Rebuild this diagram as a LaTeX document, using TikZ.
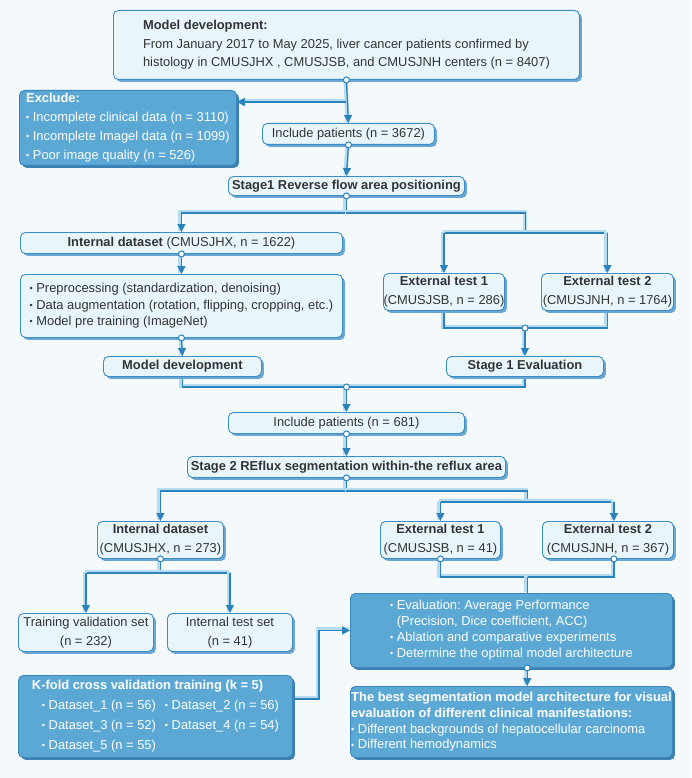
\documentclass[tikz,border=0pt]{standalone}
\usepackage{fontspec}
\setmainfont{Liberation Sans}
\usetikzlibrary{arrows.meta,shadows,calc}
\frenchspacing

\definecolor{bgc}{HTML}{F4F9FB}
\definecolor{lfill}{HTML}{E8F6FC}
\definecolor{lborder}{HTML}{3D8DC5}
\definecolor{lshade}{HTML}{6AA6D2}
\definecolor{dfill}{HTML}{5BA8D5}
\definecolor{dborder}{HTML}{3A87BF}
\definecolor{dshade}{HTML}{3F80B2}
\definecolor{linkc}{HTML}{2C82BD}
\definecolor{linkshade}{HTML}{B5DCF1}
\definecolor{txtc}{HTML}{333333}

\newcommand\boxfont[1]{\fontsize{12.9}{#1}\selectfont}
\newcommand\bul{\raisebox{0.8pt}{\fontsize{9}{9}\selectfont•}\ }

\pgfdeclarelayer{bg}
\pgfdeclarelayer{links}
\pgfdeclarelayer{top}
\pgfsetlayers{bg,links,main,top}

\tikzset{
  box/.style={rounded corners=5pt, line width=0.9pt, anchor=north west,
    inner sep=0pt, align=left},
  lbox/.style={box, draw=lborder, fill=lfill, text=txtc,
    drop shadow={shadow xshift=2.5pt, shadow yshift=-2.5pt, fill=lshade, opacity=1}},
  dbox/.style={box, draw=dborder, fill=dfill, text=white,
    drop shadow={shadow xshift=2.5pt, shadow yshift=-2.5pt, fill=dshade, opacity=1}},
  link/.style={draw=linkc, line width=1.3pt,
    preaction={draw=linkshade, line width=4pt, arrows=-,
      transform canvas={xshift=-1pt, yshift=1pt}}},
  tip/.style={-{Triangle[length=8pt,width=8pt]}},
  dotc/.style={draw=linkc, fill=white, line width=1pt},
}

\begin{document}
\begin{tikzpicture}[x=1pt, y=-1pt, font=\boxfont{15}]
\begin{pgfonlayer}{bg}
  \fill[bgc] (0,0) rectangle (691,778);
\end{pgfonlayer}

% stage 1
\node[lbox, minimum width=466pt, minimum height=69pt, font=\boxfont{18.5}] (dev) at (113,10)
  {\textbf{Model development:}\\From January 2017 to May 2025, liver cancer patients confirmed by\\histology in CMUSJHX , CMUSJSB, and CMUSJNH centers (n = 8407)};
\node[dbox, minimum width=217pt, minimum height=75pt, font=\boxfont{19}] (excl) at (19,90)
  {\textbf{Exclude:}\\\bul Incomplete clinical data (n = 3110)\\\bul Incomplete Imagel data (n = 1099)\\\bul Poor image quality (n = 526)};
\node[lbox, minimum width=172pt, minimum height=21pt] (incl1) at (262,123) {Include patients (n = 3672)};
\node[lbox, minimum width=236pt, minimum height=19pt] (st1) at (228,176) {\textbf{Stage1 Reverse flow area positioning}};
\node[lbox, minimum width=322pt, minimum height=21pt] (ind1) at (20,232) {\textbf{Internal dataset} (CMUSJHX, n = 1622)};
\node[lbox, minimum width=322pt, minimum height=63pt, font=\boxfont{16.5}] (pre) at (20,274)
  {\bul Preprocessing (standardization, denoising)\\\bul Data augmentation (rotation, flipping, cropping, etc.)\\\bul Model pre training (ImageNet)};
\node[lbox, minimum width=158pt, minimum height=20pt] (mdev) at (103,356) {\textbf{Model development}};
\node[lbox, minimum width=121pt, minimum height=37pt, align=center, font=\boxfont{19}] (ext1) at (383,273)
  {\textbf{External test 1}\\(CMUSJSB, n = 286)};
\node[lbox, minimum width=132pt, minimum height=37pt, align=center, font=\boxfont{19}] (ext2) at (541,273)
  {\textbf{External test 2}\\(CMUSJNH, n = 1764)};
\node[lbox, minimum width=157pt, minimum height=20pt] (ev1) at (446,356) {\textbf{Stage 1 Evaluation}};

% stage 2
\node[lbox, minimum width=236pt, minimum height=21pt] (incl2) at (228,412) {Include patients (n = 681)};
\node[lbox, minimum width=318pt, minimum height=21pt] (st2) at (187,456) {\textbf{Stage 2 REflux segmentation within-the reflux area}};
\node[lbox, minimum width=126pt, minimum height=37pt, align=center, font=\boxfont{19}] (ind2) at (97,521)
  {\textbf{Internal dataset}\\(CMUSJHX, n = 273)};
\node[lbox, minimum width=120pt, minimum height=37pt, align=center, font=\boxfont{19}] (ext1b) at (380,521)
  {\textbf{External test 1}\\(CMUSJSB, n = 41)};
\node[lbox, minimum width=131pt, minimum height=37pt, align=center, font=\boxfont{19}] (ext2b) at (542,521)
  {\textbf{External test 2}\\(CMUSJNH, n = 367)};
\node[lbox, minimum width=135pt, minimum height=38pt, align=center, font=\boxfont{19}] (trn) at (18,613)
  {Training validation set\\(n = 232)};
\node[lbox, minimum width=125pt, minimum height=38pt, align=center, font=\boxfont{19}] (its) at (167,613)
  {Internal test set\\(n = 41)};
\node[dbox, minimum width=322pt, minimum height=74pt, font=\boxfont{16}] (eval) at (350,593)
  {\bul Evaluation: Average Performance\\\phantom{\bul}(Precision, Dice coefficient, ACC)\\\bul Ablation and comparative experiments\\\bul Determine the optimal model architecture};
\node[dbox, minimum width=322pt, minimum height=71pt, font=\boxfont{15.7}] (best) at (350,686)
  {\textbf{The best segmentation model architecture for visual}\\\textbf{evaluation of different clinical manifestations:}\\\bul Different backgrounds of hepatocellular carcinoma\\\bul Different hemodynamics};
\node[dbox, minimum width=274pt, minimum height=82pt, font=\boxfont{20}] (kf) at (18,675)
  {\textbf{K-fold cross validation training (k = 5)}\\
   \hspace*{10pt}\makebox[123pt][l]{\bul Dataset\_1 (n = 56)}\bul Dataset\_2 (n = 56)\\
   \hspace*{10pt}\makebox[123pt][l]{\bul Dataset\_3 (n = 52)}\bul Dataset\_4 (n = 54)\\
   \hspace*{10pt}\bul Dataset\_5 (n = 55)};

\coordinate (m1) at ($(ext1.north)!.5!(ext2.north)$);
\coordinate (e2n) at ([xshift=6pt]ext2b.north);
\coordinate (e2s) at ([xshift=6pt]ext2b.south);
\coordinate (m3) at ($(ext1b.north)!.5!(e2n)$);

\begin{pgfonlayer}{links}
\draw[link,tip] (dev.south) -- (incl1.north);
\draw[link,tip] (dev.south |- 0,102) -- (excl.east |- 0,102);
\draw[link,tip] (incl1.south) -- (st1.north);
\draw[link,tip] (st1.south) -- (st1.south |- 0,213) -| (ind1.north);
\draw[link] (st1.south |- 0,213) -| (m1 |- 0,233);
\draw[link] (ext1.north |- 0,233) -- (ext2.north |- 0,233);
\draw[link,tip] (ext1.north |- 0,233) -- (ext1.north);
\draw[link,tip] (ext2.north |- 0,233) -- (ext2.north);
\draw[link,tip] (ind1.south) -- (pre.north);
\draw[link,tip] (pre.south) -- (mdev.north);
\draw[link] (ext1.south) |- (ext2.south |- 0,328) -- (ext2.south);
\draw[link,tip] (ev1.north |- 0,328) -- (ev1.north);
\draw[link] (mdev.south) |- (ev1.south |- 0,387) -- (ev1.south);
\draw[link,tip] (incl2.north |- 0,387) -- (incl2.north);
\draw[link,tip] (incl2.south) -- (st2.north);
\draw[link,tip] (st2.south) -- (st2.south |- 0,491) -| (ind2.north);
\draw[link] (st2.south |- 0,491) -| (m3 |- 0,502);
\draw[link] (ext1b.north |- 0,502) -- (e2n |- 0,502);
\draw[link,tip] (ext1b.north |- 0,502) -- (ext1b.north);
\draw[link,tip] (e2n |- 0,502) -- (e2n);
\draw[link] (ind2.south) -- (ind2.south |- 0,573);
\draw[link] (trn.north |- 0,573) -- (its.north |- 0,573);
\draw[link,tip] (trn.north |- 0,573) -- (trn.north);
\draw[link,tip] (its.north |- 0,573) -- (its.north);
\draw[link] (ext1b.south) |- (e2s |- 0,577) -- (e2s);
\draw[link] (m3 |- 0,577) -- (m3 |- eval.north);
\draw[link,tip] (m3 |- eval.south) -- (m3 |- best.north);
\draw[link,tip] (kf.east |- 0,699) -- ++(26,0) |- (eval.west);
\end{pgfonlayer}

\begin{pgfonlayer}{top}
\foreach \p in {dev.south, incl1.south, st1.south, ind1.south, pre.south,
    incl2.south, st2.south, ind2.south, ext1b.south, e2s}
  \draw[dotc] (\p) circle (3pt);
\draw[dotc] (ev1.north |- 0,328) circle (3pt);
\draw[dotc] (incl2.north |- 0,387) circle (3pt);
\draw[dotc] (m3 |- eval.south) circle (3pt);
\end{pgfonlayer}
\end{tikzpicture}
\end{document}
